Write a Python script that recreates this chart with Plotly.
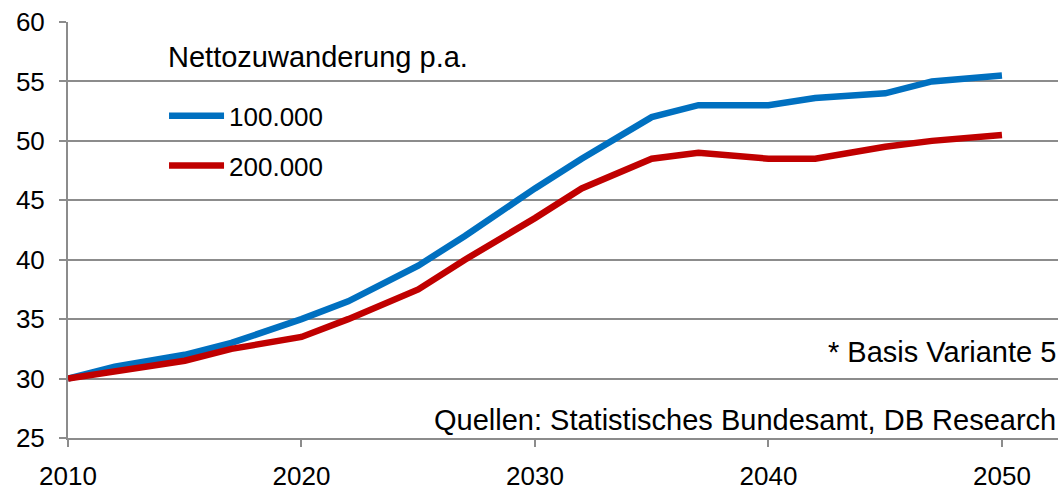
import plotly.graph_objects as go

years = [2010, 2012, 2015, 2017, 2020, 2022, 2025, 2027, 2030, 2032, 2035, 2037, 2040, 2042, 2045, 2047, 2050]
series_100k = [30, 31, 32, 33, 35, 36.5, 39.5, 42, 46, 48.5, 52, 53, 53, 53.6, 54, 55, 55.5]
series_200k = [30, 30.6, 31.5, 32.5, 33.5, 35, 37.5, 40, 43.5, 46, 48.5, 49, 48.5, 48.5, 49.5, 50, 50.5]
series_names = ["100.000", "200.000"]
series_colors = ["#0070C0", "#C00000"]
legend_title = "Nettozuwanderung p.a."
note_text = "* Basis Variante 5"
source_text = "Quellen: Statistisches Bundesamt, DB Research"
y_ticks = [25, 30, 35, 40, 45, 50, 55, 60]
x_ticks = [2010, 2020, 2030, 2040, 2050]

FONT = "Liberation Sans, Arial, sans-serif"
GRID = "#8c8c8c"
TICK_SIZE = 26
TEXT_SIZE = 29

fig = go.Figure()
for name, vals, col, grp in zip(series_names, [series_100k, series_200k], series_colors, ["a", "b"]):
    fig.add_trace(go.Scatter(
        x=years, y=vals, mode="lines", name=name, legendgroup=grp,
        line=dict(color=col, width=6.5, shape="linear"),
    ))

fig.update_layout(
    width=1059, height=491,
    margin=dict(l=68, r=1, t=22, b=53, autoexpand=False),
    paper_bgcolor="white", plot_bgcolor="white",
    font=dict(family=FONT, size=TICK_SIZE, color="black"),
    showlegend=True,
    legend=dict(
        x=0.097, y=0.831, xanchor="left", yanchor="top",
        font=dict(family=FONT, size=TICK_SIZE, color="black"),
        bgcolor="rgba(0,0,0,0)", tracegroupgap=13, itemwidth=55,
    ),
    xaxis=dict(
        range=[2010, 2052.4], tickvals=x_ticks, showgrid=False, zeroline=False,
        showline=True, linecolor=GRID, linewidth=2, automargin=False,
        ticks="outside", ticklen=7, tickwidth=2, tickcolor=GRID,
        tickfont=dict(family=FONT, size=TICK_SIZE, color="black"),
        ticklabelstandoff=7,
    ),
    yaxis=dict(
        range=[25, 60], tickvals=y_ticks, showgrid=True, gridcolor=GRID, gridwidth=2,
        zeroline=False, showline=True, linecolor=GRID, linewidth=2, automargin=False,
        ticks="outside", ticklen=7, tickwidth=2, tickcolor=GRID,
        tickfont=dict(family=FONT, size=TICK_SIZE, color="black"),
        ticklabelstandoff=9,
    ),
    annotations=[
        dict(text=legend_title, xref="paper", yref="paper", x=(166 - 68) / 990, y=(438 - 57) / 416,
             xanchor="left", yanchor="middle", showarrow=False, font=dict(family=FONT, size=TEXT_SIZE, color="black")),
        dict(text=note_text, xref="paper", yref="paper", x=1.0, y=(438 - 352) / 416,
             xanchor="right", yanchor="middle", showarrow=False, font=dict(family=FONT, size=TEXT_SIZE, color="black")),
        dict(text=source_text, xref="paper", yref="paper", x=1.0, y=(438 - 420) / 416,
             xanchor="right", yanchor="middle", showarrow=False, font=dict(family=FONT, size=TEXT_SIZE, color="black")),
    ],
)

fig.write_html("out.html", config={"displayModeBar": False},
               post_script="document.body.style.margin='0';document.body.style.overflow='hidden';")
